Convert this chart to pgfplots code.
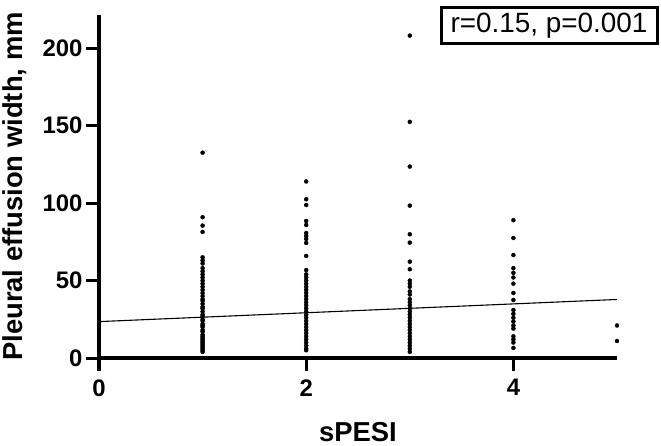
\documentclass[border=0pt]{standalone}
\usepackage{fontspec}
\setmainfont{Liberation Sans}
\usepackage{pgfplots}
\pgfplotsset{compat=1.18}

\begin{document}
\begin{tikzpicture}
\useasboundingbox (-99bp,-88bp) rectangle (562bp,358bp);
\begin{axis}[
  scale only axis, width=518bp, height=343bp,
  xmin=0, xmax=5, ymin=0, ymax=221.5,
  axis x line*=bottom, axis y line*=left,
  axis line style={-, line width=3bp},
  xtick={0,2,4}, ytick={0,50,100,150,200},
  xtick align=outside, ytick align=outside, major tick length=13bp,
  major tick style={black, line width=3bp},
  ticklabel style={font=\bfseries\fontsize{24}{24}\selectfont},
  xticklabel style={yshift=-5bp},
  /pgf/number format/assume math mode=true,
  xlabel={sPESI}, ylabel={Pleural effusion width, mm},
  every axis x label/.style={at={(rel axis cs:0.5,0)},anchor=center,yshift=-74bp,
    font=\bfseries\fontsize{27.5}{27.5}\selectfont},
  every axis y label/.style={at={(rel axis cs:0,0.5)},xshift=-84bp,rotate=90,anchor=center,
    font=\bfseries\fontsize{27.5}{27.5}\selectfont},
  clip=false,
]
% sPESI = 0 (mostly under the axis line)
\addplot[only marks, mark=*, mark size=1.4bp, black] coordinates {
(0,3) (0,5) (0,7) (0,9) (0,11) (0,13) (0,15) (0,18) (0,20) (0,23) (0,26) (0,30)
(0,34) (0,38) (0,42) (0,47) (0,52) (0,58) (0,65) (0,72) (0,80)};
% sPESI = 1
\addplot[only marks, mark=*, mark size=2bp, black] coordinates {
(1,132.6) (1,90.9) (1,85.5) (1,81.4) (1,65) (1,63) (1,61) (1,58) (1,56) (1,54)
(1,52) (1,50) (1,48) (1,46) (1,44) (1,42) (1,40) (1,38) (1,37) (1,35) (1,33)
(1,32) (1,30) (1,28) (1,27) (1,25) (1,24) (1,22) (1,21) (1,20) (1,18) (1,17)
(1,15) (1,14) (1,13) (1,12) (1,11) (1,10) (1,9) (1,8) (1,7) (1,6) (1,5) (1,4)};
% sPESI = 2
\addplot[only marks, mark=*, mark size=2bp, black] coordinates {
(2,114) (2,102.5) (2,98.8) (2,88.5) (2,85.9) (2,80.7) (2,78.8) (2,76.9) (2,74.3)
(2,65.9) (2,56.8) (2,54) (2,52) (2,50) (2,48) (2,46) (2,44) (2,42) (2,40) (2,38)
(2,36) (2,34) (2,32) (2,30) (2,28) (2,26) (2,24) (2,22) (2,20) (2,18) (2,16)
(2,14) (2,12) (2,10) (2,8) (2,6) (2,5)};
% sPESI = 3
\addplot[only marks, mark=*, mark size=2bp, black] coordinates {
(3,208.2) (3,152.5) (3,123.6) (3,98.4) (3,79.9) (3,74.5) (3,62.2) (3,57.3)
(3,50) (3,48) (3,46) (3,43) (3,41) (3,38) (3,36) (3,34) (3,32) (3,30) (3,28)
(3,26) (3,24) (3,22) (3,20) (3,18) (3,16) (3,14) (3,12) (3,10) (3,8) (3,6) (3,4)};
% sPESI = 4
\addplot[only marks, mark=*, mark size=2bp, black] coordinates {
(4,89) (4,77.5) (4,66.5) (4,58) (4,55) (4,52) (4,48) (4,42) (4,37.5) (4,31)
(4,28.5) (4,26) (4,23.5) (4,21) (4,19) (4,14) (4,12) (4,10) (4,6.5)};
% sPESI = 5
\addplot[only marks, mark=*, mark size=2bp, black] coordinates {(5,21) (5,11)};
% regression line
\addplot[black, line width=1.1bp] coordinates {(0,23.5) (5,37.8)};
\node[draw, line width=3bp, minimum width=216bp, minimum height=36bp, inner sep=0pt,
  font=\fontsize{28}{28}\selectfont, fill=white] at (axis cs:4.344,214.5) {r=0.15, p=0.001};
\end{axis}
% heavy axis frame and x ticks
\draw[line width=3bp, line join=miter] (0,343bp) -- (0,0) -- (518bp,0);
\foreach \t in {0,207.2,414.4}
  \draw[line width=3bp] (\t bp,0) -- (\t bp,-13bp);
\end{tikzpicture}
\end{document}
